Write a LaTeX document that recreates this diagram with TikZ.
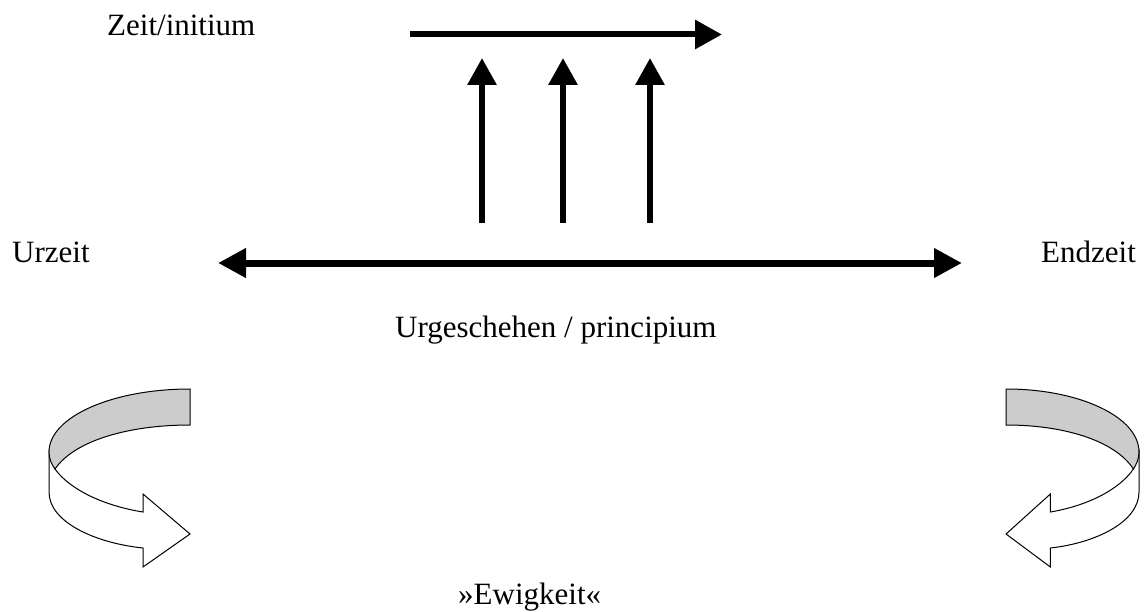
\documentclass[tikz,border=0pt]{standalone}
\usepackage{fontspec}
\setmainfont{Liberation Serif}
\usetikzlibrary{arrows.meta}
\begin{document}
\begin{tikzpicture}[x=1pt,y=-1pt,
  lbl/.style={inner sep=0pt, anchor=base west, font=\fontsize{31}{37}\selectfont},
  thick arrow/.style={line width=6pt, -{Triangle[length=27pt,width=28pt]}},
  both arrow/.style={line width=7pt, {Triangle[length=28pt,width=28pt]}-{Triangle[length=28pt,width=28pt]}},
  ribbon/.style={draw=black, line width=1pt, line join=miter},
  ]
\useasboundingbox (0,0) rectangle (1147,612);

% labels
\node[lbl] (zeit) at (107,36) {Zeit/initium};
\node[lbl] (urzeit) at (12,262) {Urzeit};
\node[lbl] (endzeit) at (1041,262) {Endzeit};
\node[lbl] (urg) at (395,337) {Urgeschehen / principium};
\node[lbl] (ewig) at (458,604) {»Ewigkeit«};

% top arrow
\coordinate (ta1) at (410,34.5);
\coordinate (ta2) at (722,34.5);
\draw[thick arrow] (ta1) -- (ta2);

% vertical arrows
\coordinate (v1a) at (482,223); \coordinate (v1b) at (482,58);
\coordinate (v2a) at (563,223); \coordinate (v2b) at (563,58);
\coordinate (v3a) at (650,223); \coordinate (v3b) at (650,58);
\draw[thick arrow] (v1a) -- (v1b);
\draw[thick arrow] (v2a) -- (v2b);
\draw[thick arrow] (v3a) -- (v3b);

% double arrow
\coordinate (da1) at (218,263);
\coordinate (da2) at (962,263);
\draw[both arrow] (da1) -- (da2);

% curved ribbon arrows
\newcommand{\myribbon}{%
  \filldraw[ribbon, fill=white]
    (49,452) -- (49,492)
    .. controls (49,522) and (95,543) .. (143,548)
    -- (143,567) -- (190,534) -- (143,494) -- (143,512)
    .. controls (105,506) and (70,490) .. (55,469)
    -- cycle;
  \filldraw[ribbon, fill=black!20]
    (190,389) .. controls (112,389) and (49,417) .. (49,452)
    .. controls (49,459) and (52,465) .. (55,469)
    .. controls (75,440) and (130,425) .. (190,425)
    -- cycle;
}
\myribbon
\begin{scope}[xshift=1185.2pt, xscale=-0.943]
\myribbon
\end{scope}
\end{tikzpicture}
\end{document}
